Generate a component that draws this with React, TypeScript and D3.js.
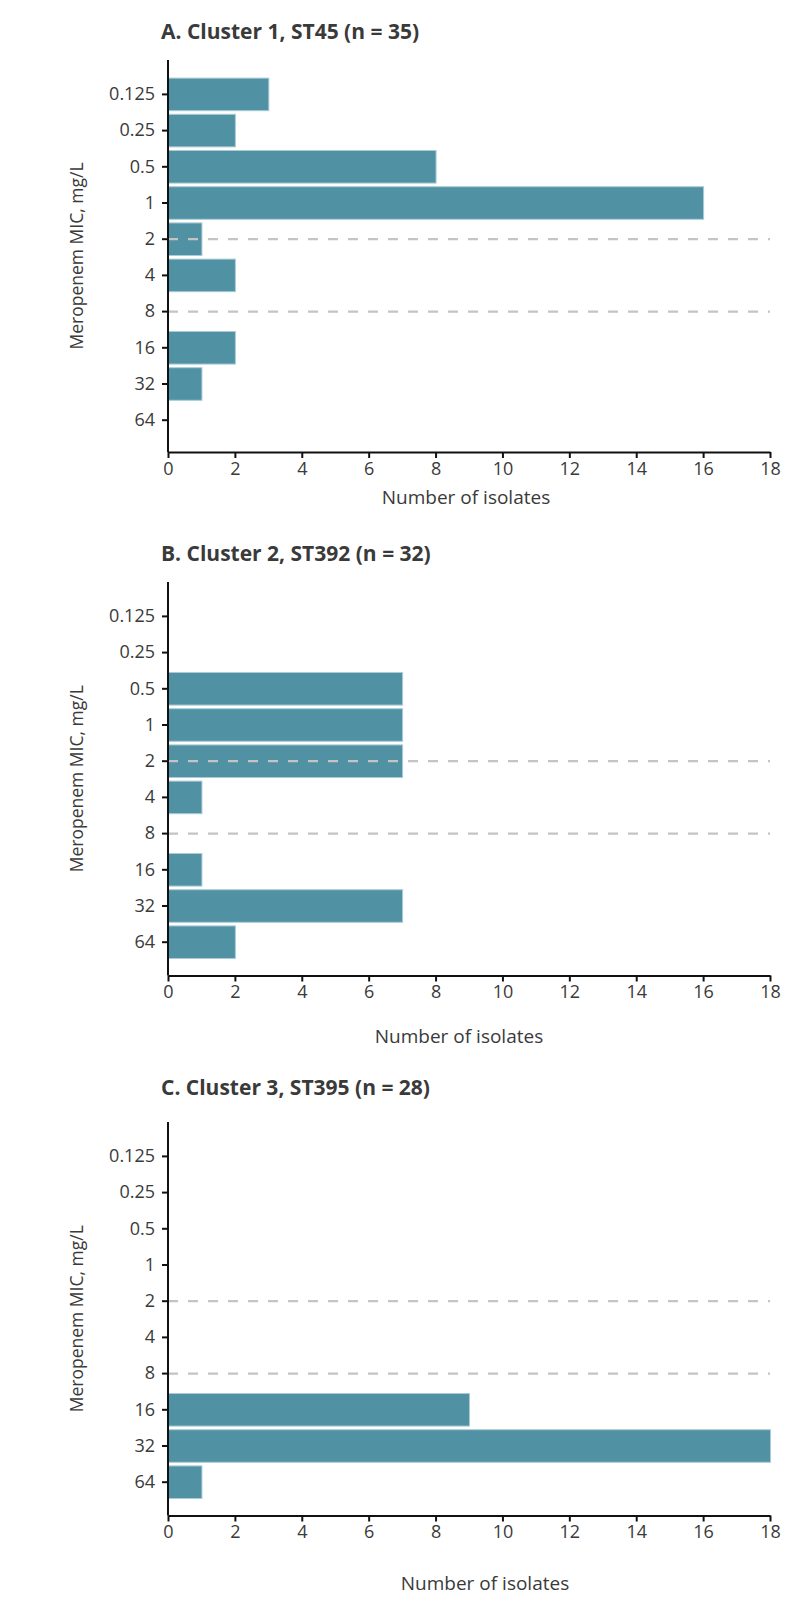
import * as d3 from 'd3'
import { useEffect, useRef } from 'react'

// MIC categories (mg/L), top to bottom
const micLabels = ['0.125', '0.25', '0.5', '1', '2', '4', '8', '16', '32', '64']

// number of isolates per MIC
const cluster1 = [3, 2, 8, 16, 1, 2, 0, 2, 1, 0]
const cluster2 = [0, 0, 7, 7, 7, 1, 0, 1, 7, 2]
const cluster3 = [0, 0, 0, 0, 0, 0, 0, 9, 18, 1]

const titles = [
  'A. Cluster 1, ST45 (n = 35)',
  'B. Cluster 2, ST392 (n = 32)',
  'C. Cluster 3, ST395 (n = 28)',
]

// clinical breakpoints drawn as dashed lines
const breakpoints = ['2', '8']

const xTicks = [0, 2, 4, 6, 8, 10, 12, 14, 16, 18]

const FONT = '"Open Sans", "Noto Sans", sans-serif'
const TEXT = '#3a3a3a'
const BAR = '#5191a4'

// vertical layout of each panel
const panels = [
  { values: cluster1, title: titles[0], titleY: 39, top: 60, axisY: 452, labelX: 466, labelY: 504 },
  { values: cluster2, title: titles[1], titleY: 561, top: 582, axisY: 975.5, labelX: 459, labelY: 1043 },
  { values: cluster3, title: titles[2], titleY: 1095, top: 1122, axisY: 1515.5, labelX: 485, labelY: 1590 },
]

const App = () => {
  const ref = useRef<SVGSVGElement>(null)

  useEffect(() => {
    const svg = d3.select(ref.current)
    svg.selectAll('*').remove()

    const x = d3.scaleLinear().domain([0, 18]).range([168, 770])

    panels.forEach((p) => {
      const g = svg.append('g')

      const y = d3
        .scaleBand()
        .domain(micLabels)
        .range([p.top + 16.3, p.top + 378.3])
        .paddingInner(0.1)
        .paddingOuter(0.05)

      // title
      g.append('text')
        .attr('x', 161)
        .attr('y', p.titleY)
        .attr('font-family', FONT)
        .attr('font-weight', 700)
        .attr('font-size', 21)
        .attr('fill', TEXT)
        .text(p.title)

      // bars
      g.append('g')
        .selectAll('rect')
        .data(micLabels.map((m, i) => ({ mic: m, n: p.values[i] })).filter((d) => d.n > 0))
        .join('rect')
        .attr('x', x(0) + 0.5)
        .attr('y', (d) => y(d.mic)!)
        .attr('width', (d) => x(d.n) - x(0))
        .attr('height', y.bandwidth())
        .attr('fill', BAR)
        .attr('stroke', '#a9ccd7')
        .attr('stroke-width', 1)

      // breakpoint lines
      g.append('g')
        .selectAll('line')
        .data(breakpoints)
        .join('line')
        .attr('x1', x(0))
        .attr('x2', x(18))
        .attr('y1', (d) => y(d)! + y.bandwidth() / 2)
        .attr('y2', (d) => y(d)! + y.bandwidth() / 2)
        .attr('stroke', '#c4c4c4')
        .attr('stroke-width', 2.2)
        .attr('stroke-dasharray', '10,10')

      // y axis
      const yAxis = g
        .append('g')
        .attr('transform', `translate(${x(0)},0)`)
        .call(d3.axisLeft(y).tickSize(6).tickSizeOuter(0))
      yAxis.select('.domain').remove()
      yAxis.selectAll('line').attr('stroke', '#111').attr('stroke-width', 2)
      yAxis
        .selectAll('text')
        .attr('x', -13)
        .attr('font-family', FONT)
        .attr('font-size', 18)
        .attr('fill', TEXT)
      yAxis
        .append('line')
        .attr('x1', 0)
        .attr('x2', 0)
        .attr('y1', p.top)
        .attr('y2', p.axisY)
        .attr('stroke', '#111')
        .attr('stroke-width', 2)

      // x axis
      const xAxis = g
        .append('g')
        .attr('transform', `translate(0,${p.axisY})`)
        .call(d3.axisBottom(x).tickValues(xTicks).tickSize(6).tickSizeOuter(0))
      xAxis.select('.domain').attr('stroke', '#111').attr('stroke-width', 2)
      xAxis.selectAll('line').attr('stroke', '#111').attr('stroke-width', 2)
      xAxis
        .selectAll('text')
        .attr('y', 10)
        .attr('font-family', FONT)
        .attr('font-size', 18)
        .attr('fill', TEXT)

      // axis labels
      g.append('text')
        .attr('x', p.labelX)
        .attr('y', p.labelY)
        .attr('text-anchor', 'middle')
        .attr('font-family', FONT)
        .attr('font-size', 19)
        .attr('fill', TEXT)
        .text('Number of isolates')

      g.append('text')
        .attr('transform', `translate(83,${(p.top + p.axisY) / 2}) rotate(-90)`)
        .attr('text-anchor', 'middle')
        .attr('font-family', FONT)
        .attr('font-size', 17.5)
        .attr('fill', TEXT)
        .text('Meropenem MIC, mg/L')
    })
  }, [])

  return (
    <div style={{ position: 'absolute', left: 0, top: 0 }}>
      <svg ref={ref} width={800} height={1613}></svg>
    </div>
  )
}

export default App
